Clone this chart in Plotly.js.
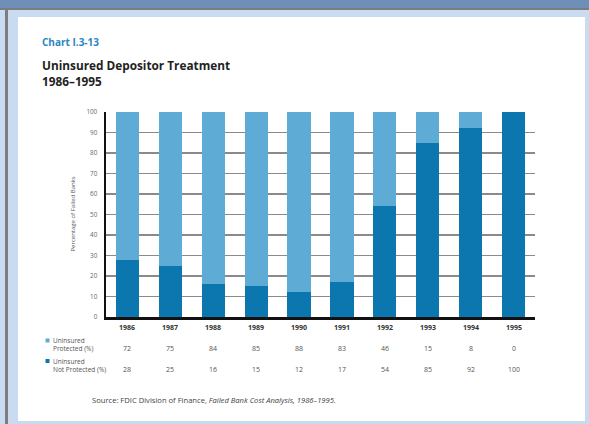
<!DOCTYPE html>
<html>
<head>
<meta charset="utf-8">
<script src="https://cdn.plot.ly/plotly-3.0.1.min.js"></script>
<style>
  html, body { margin:0; padding:0; width:589px; height:424px; overflow:hidden; background:#c8dbf0; }
  #band { position:absolute; left:0; top:0; width:589px; height:8px; background:#6e8fb8; }
  #bandline { position:absolute; left:0; top:8px; width:589px; height:2px; background:#7d7d7d; }
  #leftline { position:absolute; left:5px; top:8px; width:3px; height:416px; background:#7d7d7d; }
  #panel { position:absolute; left:18px; top:17px; width:567px; height:404px; background:#ffffff; }
  #chart { position:absolute; left:0; top:0; width:589px; height:424px; }
</style>
</head>
<body>
<div id="band"></div>
<div id="bandline"></div>
<div id="leftline"></div>
<div id="panel"></div>
<div id="chart"></div>
<script>
const years = ["1986","1987","1988","1989","1990","1991","1992","1993","1994","1995"];
const notProtected = [28, 25, 16, 15, 12, 17, 54, 85, 92, 100];
const protectedPct = [72, 75, 84, 85, 88, 83, 46, 15, 8, 0];
const yTicks = [0,10,20,30,40,50,60,70,80,90,100];

const LIGHT = "#5eabd6";
const DARK = "#0b77ae";
const FONT = "Open Sans, Noto Sans, sans-serif";

// plot area pixel geometry
const L = 106, R = 535, T = 112, B = 317;
const W = R - L, H = B - T;
const px = x => (x - L) / W;
const py = y => (B - y) / H;

const traces = [
  { type:"bar", x: years, y: notProtected, marker:{color:DARK}, hoverinfo:"skip" },
  { type:"bar", x: years, y: protectedPct, marker:{color:LIGHT}, hoverinfo:"skip" }
];

const ann = [];
ann.push({xref:"paper", yref:"paper", x:px(40), y:py(42), xanchor:"left", yanchor:"middle",
  text:"<b>Chart I.3-13</b>", showarrow:false, font:{family:FONT, size:10, color:"#2a86c4"}});
ann.push({xref:"paper", yref:"paper", x:px(40), y:py(65), xanchor:"left", yanchor:"middle",
  text:"<b>Uninsured Depositor Treatment</b>", showarrow:false, font:{family:FONT, size:11.8, color:"#222"}});
ann.push({xref:"paper", yref:"paper", x:px(40), y:py(81), xanchor:"left", yanchor:"middle",
  text:"<b>1986–1995</b>", showarrow:false, font:{family:FONT, size:11.8, color:"#222"}});
ann.push({xref:"paper", yref:"paper", x:px(72), y:0.5, xanchor:"center", yanchor:"middle", textangle:-90,
  text:"Percentage of Failed Banks", showarrow:false, font:{family:FONT, size:6, color:"#555"}});

years.forEach((yr, i) => {
  ann.push({xref:"x", yref:"paper", x:i, y:py(327), xanchor:"center", yanchor:"middle",
    text:"<b>"+yr+"</b>", showarrow:false, font:{family:FONT, size:7, color:"#333"}});
  ann.push({xref:"x", yref:"paper", x:i, y:py(348), xanchor:"center", yanchor:"middle",
    text:String(protectedPct[i]), showarrow:false, font:{family:FONT, size:7, color:"#555"}});
  ann.push({xref:"x", yref:"paper", x:i, y:py(369), xanchor:"center", yanchor:"middle",
    text:String(notProtected[i]), showarrow:false, font:{family:FONT, size:7, color:"#555"}});
});

ann.push({xref:"paper", yref:"paper", x:px(51), y:py(344), xanchor:"left", yanchor:"middle", align:"left",
  text:"Uninsured<br>Protected (%)", showarrow:false, font:{family:FONT, size:6.5, color:"#555"}});
ann.push({xref:"paper", yref:"paper", x:px(51), y:py(365), xanchor:"left", yanchor:"middle", align:"left",
  text:"Uninsured<br>Not Protected (%)", showarrow:false, font:{family:FONT, size:6.5, color:"#555"}});
ann.push({xref:"paper", yref:"paper", x:px(90), y:py(400), xanchor:"left", yanchor:"middle",
  text:"Source: FDIC Division of Finance, <i>Failed Bank Cost Analysis, 1986–1995.</i>", showarrow:false,
  font:{family:FONT, size:7.6, color:"#444"}});

const shapes = [
  {type:"rect", xref:"paper", yref:"paper", x0:px(45.5), x1:px(49.5), y0:py(342.5), y1:py(338.5), fillcolor:LIGHT, line:{width:0}},
  {type:"rect", xref:"paper", yref:"paper", x0:px(45.5), x1:px(49.5), y0:py(363), y1:py(359), fillcolor:DARK, line:{width:0}}
];

const layout = {
  width:589, height:424,
  margin:{l:L, r:589-R, t:T, b:424-B, pad:0},
  paper_bgcolor:"rgba(0,0,0,0)", plot_bgcolor:"#ffffff",
  barmode:"stack", bargap:0.46,
  showlegend:false,
  xaxis:{type:"category", range:[-0.5, 9.5], autorange:false, showticklabels:false, ticks:"", showgrid:false, zeroline:false,
         showline:true, linecolor:"#111", linewidth:2.5, fixedrange:true},
  yaxis:{range:[0,100], autorange:false, tickvals:yTicks, ticktext:yTicks.map(String), showgrid:true, gridcolor:"#8a8a8a", gridwidth:1.6,
         zeroline:false, showline:true, linecolor:"#111", linewidth:2.5, ticks:"",
         tickfont:{family:FONT, size:6.3, color:"#666"}, ticklabelstandoff:5, fixedrange:true},
  annotations: ann,
  shapes: shapes
};

Plotly.newPlot("chart", traces, layout, {staticPlot:true, displayModeBar:false});
</script>
</body>
</html>
